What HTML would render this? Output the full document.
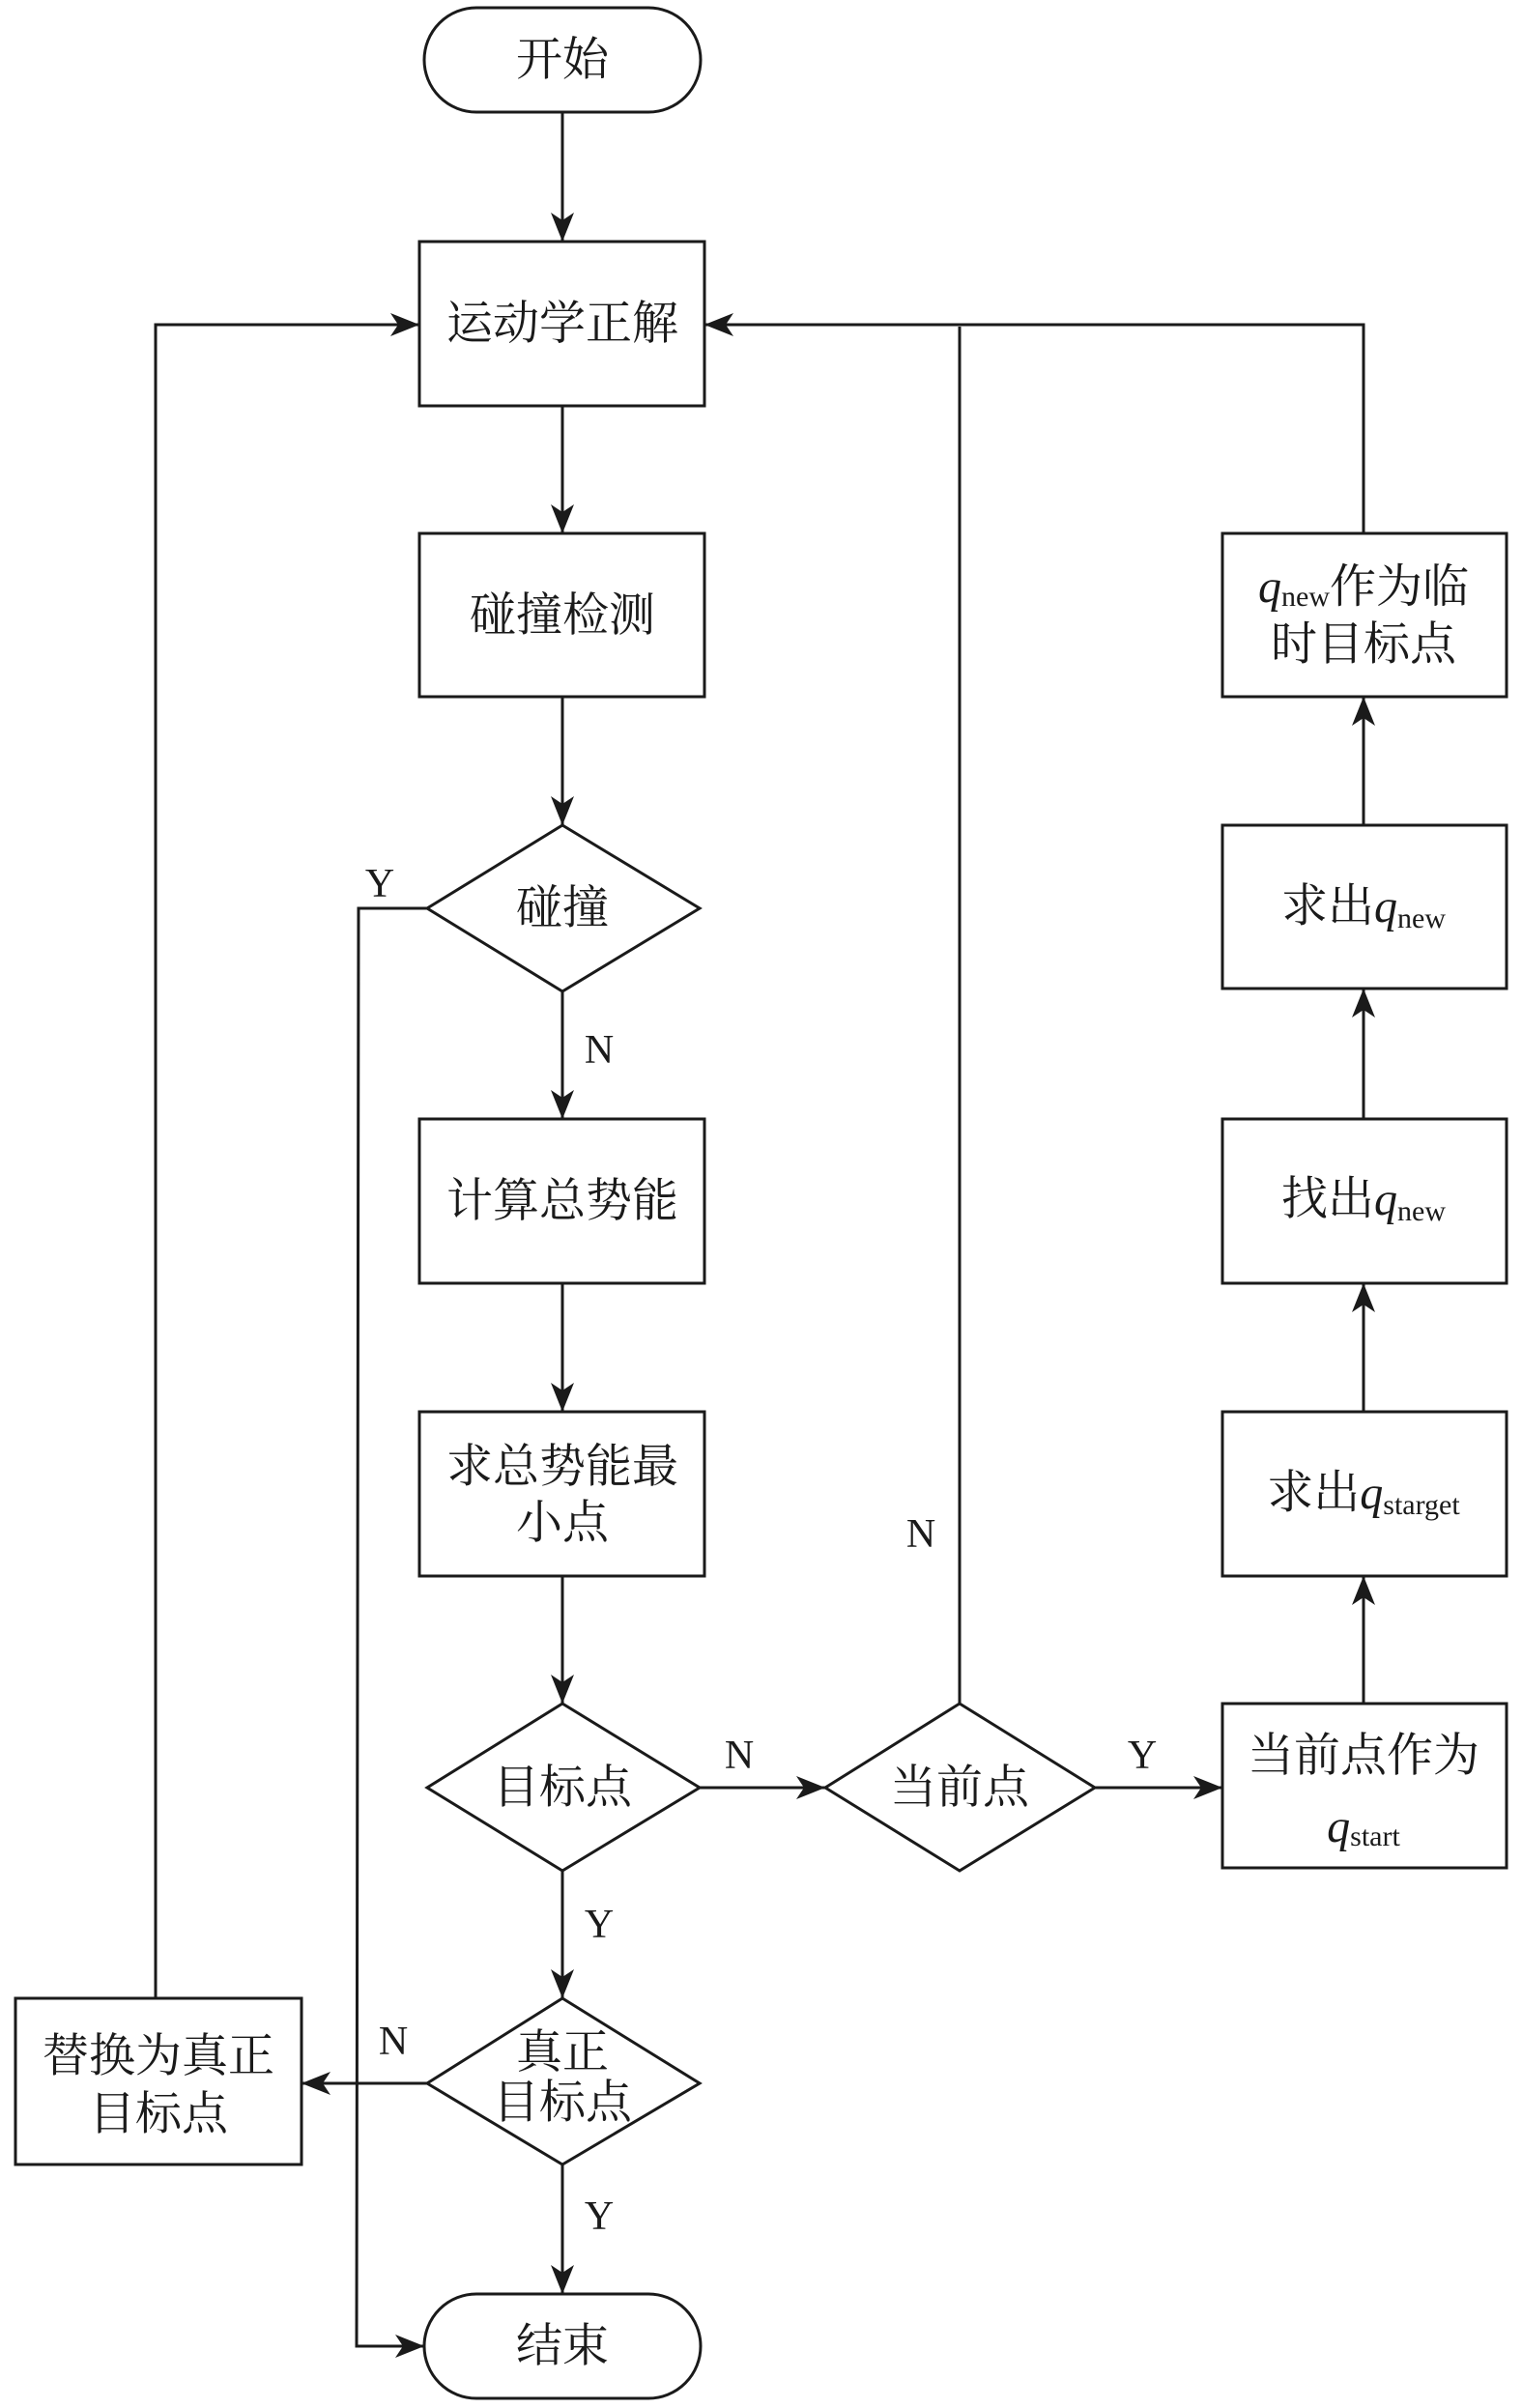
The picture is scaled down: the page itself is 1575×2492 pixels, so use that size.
<!DOCTYPE html>
<html><head><meta charset="utf-8"><style>
html,body{margin:0;padding:0;background:#fff}
svg{display:block}
text{font-family:"Liberation Serif","Noto Serif CJK SC",serif;fill:#1a1a1a}
.t{font-size:48px;text-anchor:middle;dominant-baseline:central}
.l{font-size:42px;text-anchor:middle;dominant-baseline:central}
</style></head><body>
<svg width="1575" height="2492" viewBox="0 0 1575 2492" xmlns="http://www.w3.org/2000/svg">
<defs><marker id="a" markerWidth="12" markerHeight="12" refX="11" refY="6" orient="auto" markerUnits="userSpaceOnUse"><path d="M0,0 L12,6 L0,12 L3,6 Z" fill="#1a1a1a" transform="scale(1)"/></marker>
<marker id="b" viewBox="0 0 30 24" markerWidth="30" markerHeight="24" refX="30" refY="12" orient="auto" markerUnits="userSpaceOnUse"><path d="M0,0 L30,12 L0,24 L8,12 Z" fill="#1a1a1a"/></marker></defs>
<g fill="none" stroke="#1a1a1a" stroke-width="3">
<rect x="439" y="8" width="286" height="108" rx="54"/>
<rect x="434" y="250" width="295" height="170"/>
<rect x="434" y="552" width="295" height="169"/>
<polygon points="582,854 724,940 582,1026 442,940"/>
<rect x="434" y="1158" width="295" height="170"/>
<rect x="434" y="1461" width="295" height="170"/>
<polygon points="582,1763 724,1850 582,1936 442,1850"/>
<polygon points="582,2068 724,2156 582,2240 442,2156"/>
<rect x="439" y="2374" width="286" height="108" rx="54"/>
<rect x="16" y="2068" width="296" height="172"/>
<polygon points="993,1763 1133,1850 993,1936 854,1850"/>
<rect x="1265" y="552" width="294" height="169"/>
<rect x="1265" y="854" width="294" height="169"/>
<rect x="1265" y="1158" width="294" height="170"/>
<rect x="1265" y="1461" width="294" height="170"/>
<rect x="1265" y="1763" width="294" height="170"/>
<g marker-end="url(#b)">
<line x1="582" y1="116" x2="582" y2="250"/>
<line x1="582" y1="420" x2="582" y2="552"/>
<line x1="582" y1="721" x2="582" y2="854"/>
<line x1="582" y1="1026" x2="582" y2="1158"/>
<line x1="582" y1="1328" x2="582" y2="1461"/>
<line x1="582" y1="1631" x2="582" y2="1763"/>
<line x1="582" y1="1936" x2="582" y2="2068"/>
<line x1="582" y1="2240" x2="582" y2="2374"/>
<polyline points="161,2068 161,336 434,336"/>
<polyline points="442,940 371,940 369,2428 439,2428"/>
<line x1="442" y1="2156" x2="312" y2="2156"/>
<line x1="724" y1="1850" x2="854" y2="1850"/>
<line x1="1133" y1="1850" x2="1265" y2="1850"/>
<polyline points="1411,552 1411,336 729,336"/>
<line x1="1411" y1="1763" x2="1411" y2="1631"/>
<line x1="1411" y1="1461" x2="1411" y2="1328"/>
<line x1="1411" y1="1158" x2="1411" y2="1023"/>
<line x1="1411" y1="854" x2="1411" y2="721"/>
</g>
<line x1="993" y1="1763" x2="993" y2="338"/>
</g>
<text class="t" x="582" y="62">开始</text>
<text class="t" x="582" y="335">运动学正解</text>
<text class="t" x="582" y="637">碰撞检测</text>
<text class="t" x="582" y="940">碰撞</text>
<text class="t" x="582" y="1243">计算总势能</text>
<text class="t" x="582" y="1518">求总势能最</text>
<text class="t" x="582" y="1576">小点</text>
<text class="t" x="582" y="1850">目标点</text>
<text class="t" x="582" y="2124">真正</text>
<text class="t" x="582" y="2176">目标点</text>
<text class="t" x="582" y="2428">结束</text>
<text class="t" x="164" y="2128">替换为真正</text>
<text class="t" x="164" y="2188">目标点</text>
<text class="t" x="993" y="1850">当前点</text>
<text class="t" x="1411" y="607"><tspan font-style="italic">q</tspan><tspan font-size="30" dy="10">new</tspan><tspan dy="-10">作为临</tspan></text>
<text class="t" x="1411" y="667">时目标点</text>
<text class="t" x="1411" y="938">求出<tspan font-style="italic">q</tspan><tspan font-size="30" dy="12">new</tspan></text>
<text class="t" x="1411" y="1241">找出<tspan font-style="italic">q</tspan><tspan font-size="30" dy="12">new</tspan></text>
<text class="t" x="1411" y="1545">求出<tspan font-style="italic">q</tspan><tspan font-size="30" dy="12">starget</tspan></text>
<text class="t" x="1411" y="1817">当前点作为</text>
<text class="t" x="1411" y="1890"><tspan font-style="italic">q</tspan><tspan font-size="30" dy="10">start</tspan></text>
<text class="l" x="393" y="915">Y</text>
<text class="l" x="620" y="1087">N</text>
<text class="l" x="953" y="1588">N</text>
<text class="l" x="765" y="1817">N</text>
<text class="l" x="1182" y="1817">Y</text>
<text class="l" x="620" y="1992">Y</text>
<text class="l" x="407" y="2113">N</text>
<text class="l" x="620" y="2294">Y</text>
</svg>
</body></html>
